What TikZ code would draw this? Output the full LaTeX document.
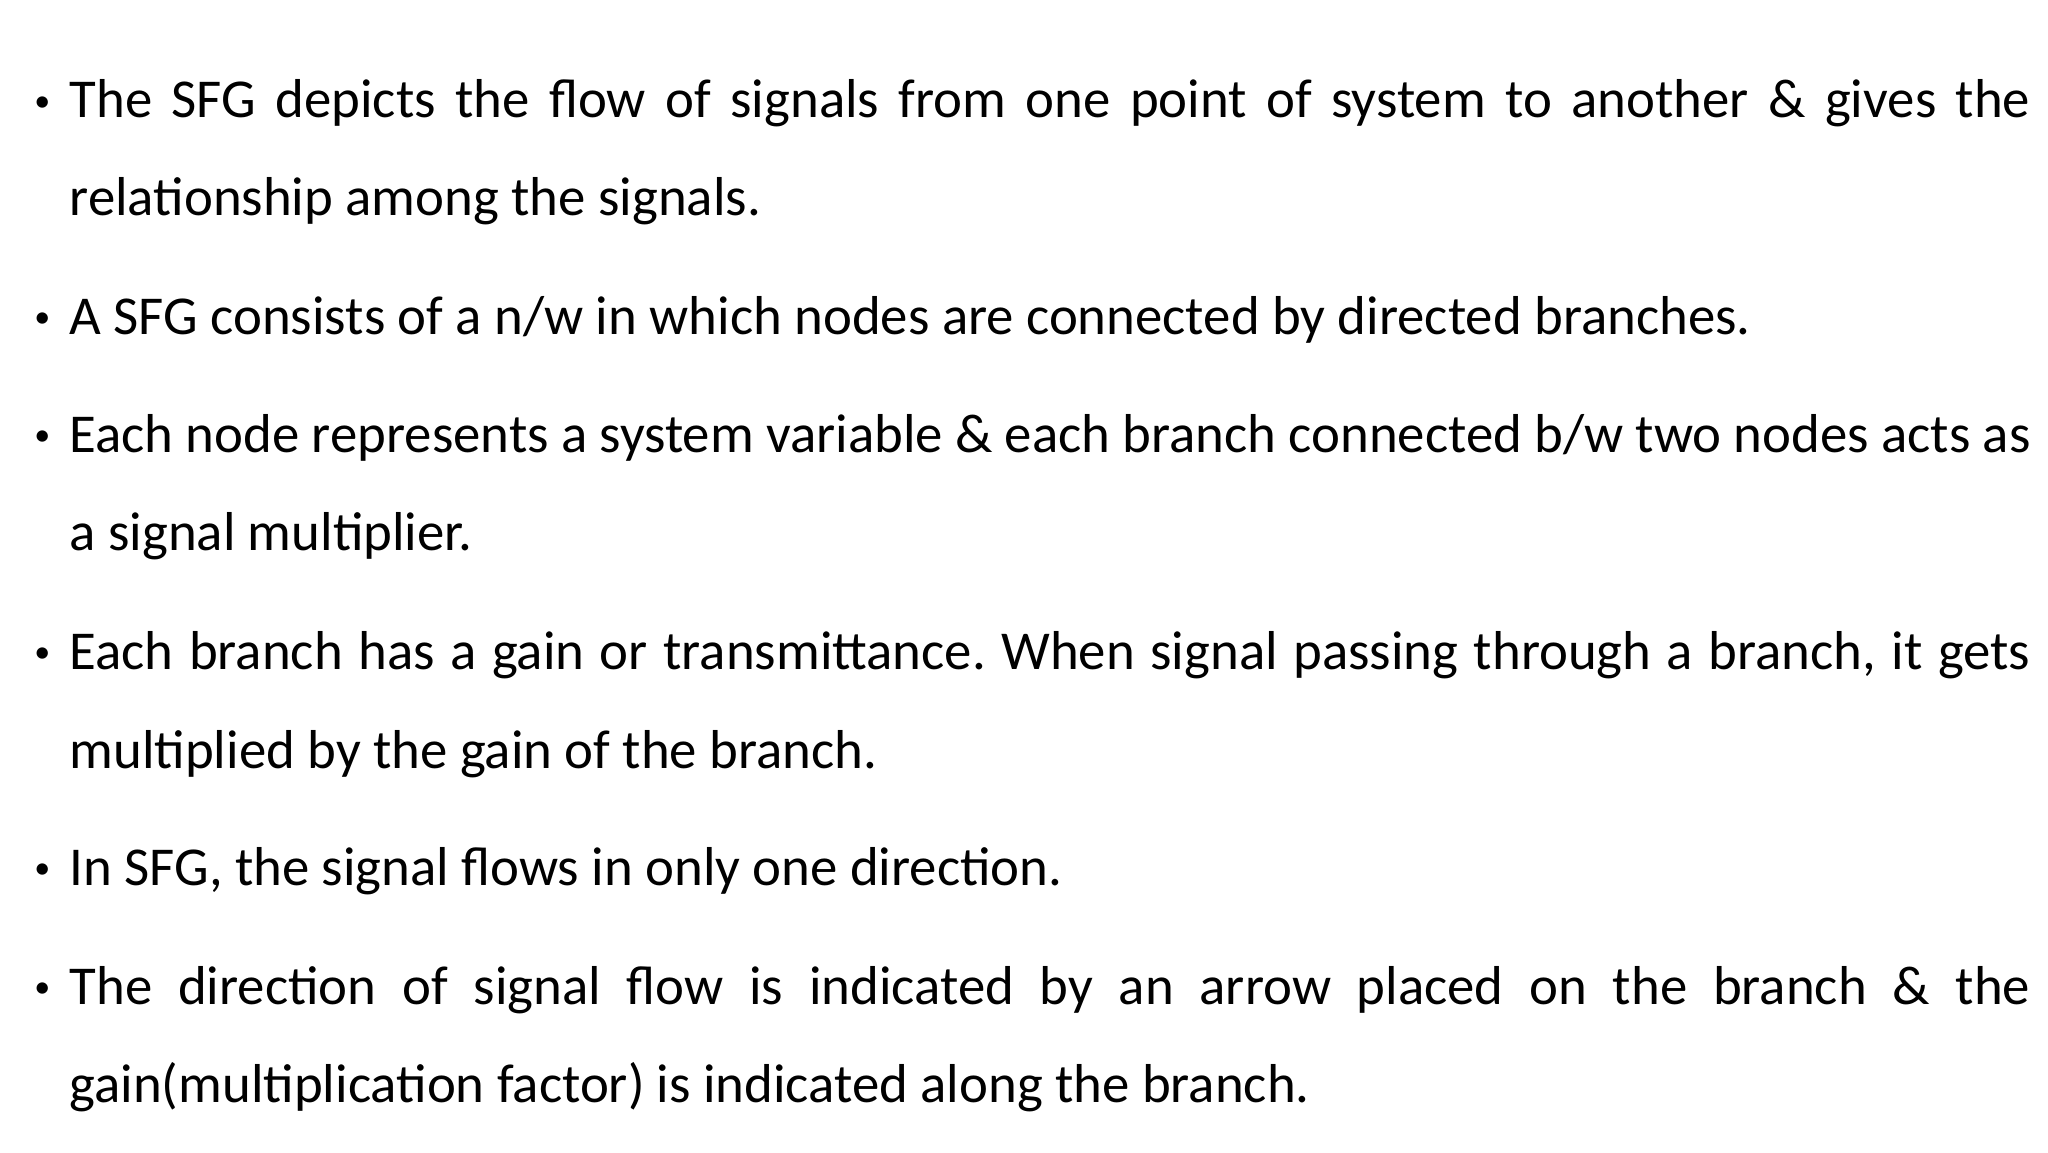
\documentclass[tikz,border=0pt]{standalone}
\usepackage{fontspec}
\setmainfont{Carlito}
\frenchspacing
\begin{document}
\begin{tikzpicture}[x=1pt,y=1pt,
  ln/.style={anchor=base west,inner sep=0pt,font=\fontsize{27.4}{30}\selectfont},
  bl/.style={anchor=base west,inner sep=0pt,font=\fontsize{16}{20}\selectfont}]
\useasboundingbox (0,0) rectangle (1024,-576);
\def\W{980.5pt}
\node[bl] (b1) at (17,-55.5) {•};
\node[ln] (l1) at (34.6,-58.8) {\makebox[\W][s]{The SFG depicts the flow of signals from one point of system to another \& gives the}};
\node[ln] (l2) at (34.6,-107.8) {relationship among the signals.};
\node[bl] (b2) at (17,-163.7) {•};
\node[ln] (l3) at (34.6,-167) {A SFG consists of a n/w in which nodes are connected by directed branches.};
\node[bl] (b3) at (17,-222.7) {•};
\node[ln] (l4) at (34.6,-226) {\makebox[\W][s]{Each node represents a system variable \& each branch connected b/w two nodes acts as}};
\node[ln] (l5) at (34.6,-275) {a signal multiplier.};
\node[bl] (b4) at (17,-331.2) {•};
\node[ln] (l6) at (34.6,-334.5) {\makebox[\W][s]{Each branch has a gain or transmittance. When signal passing through a branch, it gets}};
\node[ln] (l7) at (34.6,-384) {multiplied by the gain of the branch.};
\node[bl] (b5) at (17,-439.4) {•};
\node[ln] (l8) at (34.6,-442.7) {In SFG, the signal flows in only one direction.};
\node[bl] (b6) at (17,-498.7) {•};
\node[ln] (l9) at (34.6,-502) {\makebox[\W][s]{The direction of signal flow is indicated by an arrow placed on the branch \& the}};
\node[ln] (l10) at (34.6,-551) {gain(multiplication factor) is indicated along the branch.};
\end{tikzpicture}
\end{document}
